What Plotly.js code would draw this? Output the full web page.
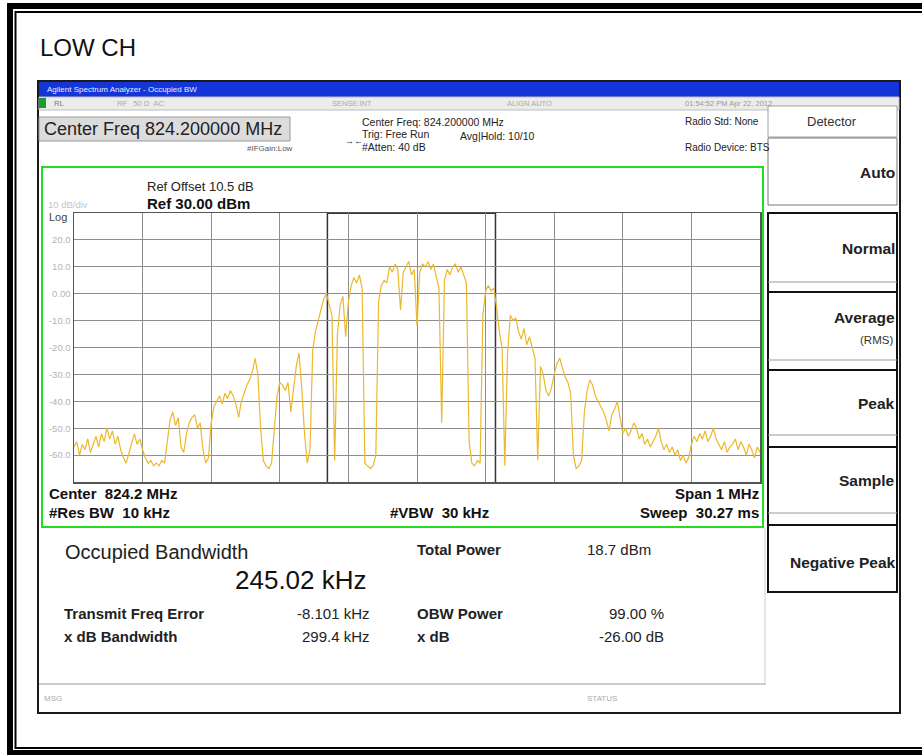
<!DOCTYPE html>
<html>
<head>
<meta charset="utf-8">
<script src="https://cdn.plot.ly/plotly-3.0.1.min.js"></script>
<style>html,body{margin:0;padding:0;background:#fff;}#chart{width:922px;height:755px;}</style>
</head>
<body>
<div id="chart"></div>
<script>
// ---------------- data ----------------
const startMHz = 823.7;      // left edge of span
const stepMHz = 0.004;       // trace point spacing
const centerMHz = 824.2;
const spanMHz = 1.0;
const refLevel = 30;         // dBm
const dbPerDiv = 10;
const obwKHz = 245.02;
const freqErrKHz = -8.101;

const traceDbm = [
 -57,-55,-60,-56,-58,-54,-59,-56,-53,-57,
 -52,-55,-50,-54,-51,-56,-53,-58,-61,-63,
 -59,-55,-52,-56,-54,-58,-61,-63,-62,-64,
 -63,-64,-62,-63,-55,-47,-44,-49,-46,-57,
 -59,-52,-48,-46,-45,-50,-48,-58,-63,-61,
 -48,-42,-40,-38,-41,-37,-39,-36,-38,-41,
 -46,-40,-37,-34,-32,-29,-24,-30,-50,-62,
 -64,-65,-63,-52,-38,-33,-34,-36,-33,-44,
 -35,-27,-22,-35,-52,-63,-58,-21,-14,-10,
 -6,-2,0,-4,-8,-62,-15,-4,-1,-16,
 -3,3,6,4,7,2,-63,-64,-65,-64,
 -60,-3,3,5,4,10,8,11,9,-6,
 8,10,12,7,9,-12,8,11,10,12,
 9,11,6,2,-48,5,9,7,10,11,
 8,10,7,4,-55,-63,-64,-62,-63,-8,
 1,3,1,2,-5,-14,-20,-64,-22,-8,
 -10,-9,-14,-17,-13,-19,-16,-20,-24,-62,
 -27,-30,-36,-38,-35,-30,-26,-24,-28,-31,
 -33,-37,-60,-65,-64,-62,-44,-36,-32,-34,
 -38,-40,-42,-44,-47,-51,-45,-43,-40,-46,
 -52,-50,-53,-51,-48,-50,-54,-52,-56,-54,
 -57,-55,-53,-50,-55,-58,-56,-59,-57,-60,
 -58,-62,-60,-63,-61,-56,-53,-55,-52,-54,
 -51,-55,-53,-50,-54,-56,-58,-55,-59,-57,
 -56,-54,-58,-55,-57,-60,-56,-58,-61,-57,
 -59
];

const yTickVals = [20,10,0,-10,-20,-30,-40,-50,-60];
const yTickText = ['20.0','10.0','0.00','-10.0','-20.0','-30.0','-40.0','-50.0','-60.0'];

const softKeys = ['Auto','Normal','Average','Peak','Sample','Negative Peak'];

// ---------------- layout helpers ----------------
const W = 922, H = 755;
const PL = 74, PR = 760, PT = 213, PB = 482;   // plot area in pixels
const px = x => (x - PL) / (PR - PL);
const py = y => (PB - y) / (PB - PT);
const FONT = 'Liberation Sans, Arial, sans-serif';

const shapes = [];
const ann = [];
function rect(x0, y0, x1, y1, fill, lc, lw, layer) {
  shapes.push({type:'rect', xref:'paper', yref:'paper', x0:px(x0), x1:px(x1), y0:py(y0), y1:py(y1),
    fillcolor: fill || 'rgba(0,0,0,0)', line:{color: lc || 'rgba(0,0,0,0)', width: lw || 0}, layer: layer || 'below'});
}
function line(x0, y0, x1, y1, lc, lw, layer) {
  shapes.push({type:'line', xref:'paper', yref:'paper', x0:px(x0), x1:px(x1), y0:py(y0), y1:py(y1),
    line:{color:lc, width:lw}, layer: layer || 'below'});
}
function txt(x, y, s, size, opts) {
  opts = opts || {};
  ann.push({xref:'paper', yref:'paper', x:px(x), y:py(y), text:s, showarrow:false,
    xanchor: opts.anchor || 'left', yanchor:'middle',
    font:{family: FONT, size: size, color: opts.color || '#1a1a1a', weight: opts.bold ? 'bold' : 'normal'}});
}

// outer double frame (right side runs off the picture)
rect(10, 6, 940, 753, null, '#000', 6);
rect(15.5, 12, 935, 748, null, '#000', 2);

// title
txt(38, 47, 'LOW CH', 24, {color:'#111'});

// screenshot base
rect(38, 81, 900, 713, '#ffffff', '#1a1a1a', 2);
// blue title bar
rect(39, 82, 899, 97, '#1436d8', null, 0);
txt(45, 89.5, 'Agilent Spectrum Analyzer - Occupied BW', 8, {color:'#e8eeff'});
// status row
rect(39, 97, 899, 110, '#ececec', '#bdbdbd', 1);
rect(39, 98, 46, 108, '#1c9c2c', null, 0);
txt(52, 103.5, 'RL', 7.5, {color:'#777'});
txt(115, 103.5, 'RF   50 Ω  AC', 7.5, {color:'#aaa'});
txt(330, 103.5, 'SENSE:INT', 7.5, {color:'#aaa'});
txt(505, 103.5, 'ALIGN AUTO', 7.5, {color:'#aaa'});
txt(683, 103.5, '01:54:52 PM Apr 22, 2012', 7.5, {color:'#999'});
// center freq box
rect(39, 117, 290, 141, '#dcdcdc', '#9a9a9a', 1);
txt(42, 129, 'Center Freq 824.200000 MHz', 18, {color:'#222'});
txt(245, 148, '#IFGain:Low', 8, {color:'#555'});
txt(343, 141, '→←', 9, {color:'#333'});
txt(360, 122, 'Center Freq: 824.200000 MHz', 10.5, {color:'#222'});
txt(360, 134, 'Trig: Free Run', 10.5, {color:'#222'});
txt(360, 147, '#Atten: 40 dB', 10.5, {color:'#222'});
txt(458, 136, 'Avg|Hold: 10/10', 10.5, {color:'#222'});
txt(683, 122, 'Radio Std: None', 10, {color:'#222'});
txt(683, 147, 'Radio Device: BTS', 10, {color:'#222'});

// green display frame
rect(42, 167, 763, 527, null, '#22dd22', 2);
txt(145, 187, 'Ref Offset 10.5 dB', 13, {color:'#222'});
txt(145, 203, 'Ref 30.00 dBm', 15, {color:'#111', bold:true});
txt(46, 204, '10 dB/div', 9.5, {color:'#c4c4c4'});
txt(47, 217, 'Log', 11, {color:'#444'});
txt(47, 493, 'Center  824.2 MHz', 15, {color:'#111', bold:true});
txt(47, 512, '#Res BW  10 kHz', 15, {color:'#111', bold:true});
txt(388, 512, '#VBW  30 kHz', 15, {color:'#111', bold:true});
txt(761, 493, 'Span 1 MHz', 15, {color:'#111', bold:true, anchor:'right'});
txt(761, 512, 'Sweep  30.27 ms', 15, {color:'#111', bold:true, anchor:'right'});

// measurement panel
line(39, 684, 766, 684, '#bcbcbc', 1.5);
line(765, 528, 765, 684, '#cfcfcf', 1);
txt(63, 552, 'Occupied Bandwidth', 20, {color:'#222'});
txt(233, 580, '245.02 kHz', 26, {color:'#111'});
txt(415, 549, 'Total Power', 15, {color:'#222', bold:true});
txt(585, 549, '18.7 dBm', 15, {color:'#222'});
txt(62, 613, 'Transmit Freq Error', 15, {color:'#222', bold:true});
txt(372, 613, '-8.101 kHz', 15, {color:'#222', anchor:'right'});
txt(415, 613, 'OBW Power', 15, {color:'#222', bold:true});
txt(666, 613, '99.00 %', 15, {color:'#222', anchor:'right'});
txt(62, 636, 'x dB Bandwidth', 15, {color:'#222', bold:true});
txt(372, 636, '299.4 kHz', 15, {color:'#222', anchor:'right'});
txt(415, 636, 'x dB', 15, {color:'#222', bold:true});
txt(666, 636, '-26.00 dB', 15, {color:'#222', anchor:'right'});
txt(42, 698, 'MSG', 8, {color:'#aaa'});
txt(585, 698, 'STATUS', 8, {color:'#aaa'});

// soft keys
rect(768, 106, 897, 137, '#ffffff', '#a0a0a0', 1);
txt(832, 122, 'Detector', 13, {color:'#333', anchor:'center'});
rect(768, 138, 897, 205, '#ffffff', '#777', 1);
rect(768, 213, 897, 592, '#ffffff', '#111', 2);
[292, 370, 447, 525].forEach(y => line(768, y, 897, y, '#111', 2));
[282, 360, 435, 513].forEach(y => line(768, y, 897, y, '#9a9a9a', 1));
const keyY = [172, 248, 317, 403, 480, 562];
softKeys.forEach((k, i) => txt(897, keyY[i], k, 15.5, {color:'#222', bold:true, anchor:'right'}));
txt(895, 340, '(RMS)', 11.5, {color:'#333', anchor:'right'});

// OBW marker bracket (from measured OBW and frequency error)
const obwLo = centerMHz + freqErrKHz / 1000 - obwKHz / 2000;
const obwHi = centerMHz + freqErrKHz / 1000 + obwKHz / 2000;
const yBot = refLevel - 10 * dbPerDiv;
[obwLo, obwHi].forEach(f => shapes.push({type:'line', xref:'x', yref:'y', x0:f, x1:f, y0:yBot, y1:refLevel,
  line:{color:'#34343f', width:1.5}, layer:'below'}));
shapes.push({type:'line', xref:'x', yref:'y', x0:obwLo, x1:obwHi, y0:refLevel, y1:refLevel,
  line:{color:'#34343f', width:2}, layer:'below'});

const data = [{
  type:'scatter', mode:'lines',
  x0: startMHz, dx: stepMHz, y: traceDbm,
  line:{color:'#ecb82c', width:1.2}, hoverinfo:'skip'
}];

const layout = {
  width: W, height: H,
  margin:{l:PL, r:W-PR, t:PT, b:H-PB, pad:0},
  paper_bgcolor:'#ffffff', plot_bgcolor:'rgba(0,0,0,0)',
  showlegend:false,
  xaxis:{range:[startMHz, startMHz + spanMHz], tick0:startMHz, dtick:0.1, showticklabels:false, ticks:'',
    showgrid:true, gridcolor:'#8e8e8e', gridwidth:1, zeroline:false,
    showline:true, mirror:true, linecolor:'#555', linewidth:1.5, fixedrange:true},
  yaxis:{range:[yBot, refLevel], tickvals:yTickVals, ticktext:yTickText, ticks:'',
    tickfont:{family:FONT, size:9.5, color:'#b4b4b4'},
    showgrid:true, gridcolor:'#8e8e8e', gridwidth:1, zeroline:false,
    showline:true, mirror:true, linecolor:'#555', linewidth:1.5, fixedrange:true},
  shapes: shapes,
  annotations: ann
};

Plotly.newPlot('chart', data, layout, {staticPlot:true});
</script>
</body>
</html>
